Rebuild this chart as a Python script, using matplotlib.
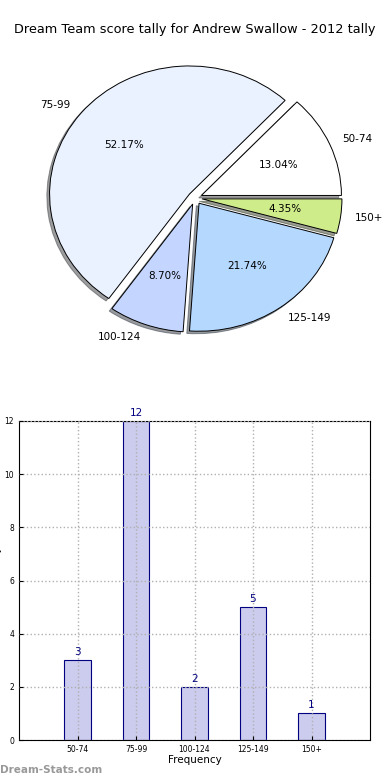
import matplotlib
matplotlib.use("Agg")
import matplotlib.pyplot as plt
import numpy as np

# data
categories = ["50-74", "75-99", "100-124", "125-149", "150+"]
counts = [3, 12, 2, 5, 1]
pie_colors = ["#ffffff", "#eaf1ff", "#c4d6ff", "#b5d8ff", "#cfec8a"]
title = "Dream Team score tally for Andrew Swallow - 2012 tally"

fig = plt.figure(figsize=(3.9, 7.8), dpi=100)

# pie at the top
ax1 = fig.add_axes([20 / 390, 1 - 358 / 780, 350 / 390, 320 / 780])
wedges, texts, autotexts = ax1.pie(counts, labels=categories, colors=pie_colors,
                                   explode=[0.05] * len(counts),
                                   shadow={"ox": -0.014, "oy": -0.014, "shade": 0.75},
                                   autopct="%.2f%%", startangle=0,
                                   wedgeprops=dict(edgecolor="black", linewidth=0.7),
                                   textprops=dict(fontsize=7.5))
ax1.set_aspect("auto")
ax1.set_xlim(-1.25, 1.25)
ax1.set_ylim(-1.25, 1.25)
fig.text(0.5, 1 - 30 / 780, title, ha="center", va="center", fontsize=9.3)

# bar chart below
ax2 = fig.add_axes([19 / 390, 1 - 740 / 780, 351 / 390, 319 / 780])
x = np.arange(len(categories))
ax2.bar(x, counts, width=0.45, color="#ccccee", edgecolor="navy", linewidth=0.8, zorder=2)
for xi, c in zip(x, counts):
    ax2.text(xi, c + 0.12, str(c), ha="center", va="bottom", color="navy", fontsize=7.5)
ax2.set_xlim(-1, 5)
ax2.set_ylim(0, 12)
ax2.set_xticks(x)
ax2.set_xticklabels(categories, fontsize=5.5)
ax2.set_yticks(range(0, 13, 2))
ax2.tick_params(axis="y", labelsize=5.5)
ax2.tick_params(length=3, direction="in")
ax2.grid(True, linestyle=":", color="#b0b0b0", linewidth=1.0, zorder=3)
ax2.set_axisbelow(False)
ax2.set_xlabel("Frequency", fontsize=7.5, labelpad=1)
ax2.set_ylabel("Scores in tally", fontsize=7, labelpad=2)

fig.text(0.0, 1 - 770 / 780, "Dream-Stats.com", fontsize=7.5, color="#999999",
         ha="left", va="center", fontweight="bold")

fig.savefig("out.png", dpi=100)
